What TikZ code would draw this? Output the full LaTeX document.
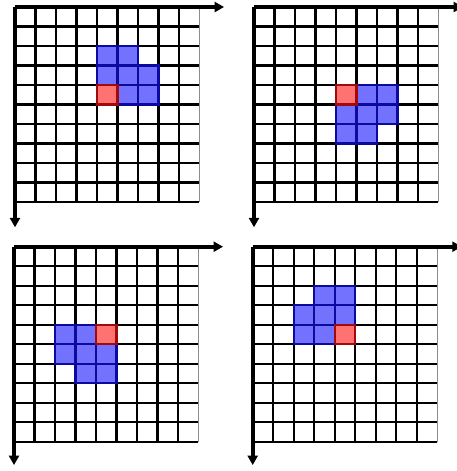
\documentclass[tikz,border=0pt]{standalone}
\usetikzlibrary{arrows.meta}

\newcommand{\cellgrid}{%
  \foreach \i in {1,...,8} \draw[gridline] (\i,0) -- (\i,10);
  \foreach \j in {1,...,10} \draw[gridline] (0,\j) -- (9,\j);
  \draw[edgeline] (9,0) -- (9,10);}

\begin{document}
\begin{tikzpicture}[x=0.02cm,y=-0.02cm,
    gridline/.style={line width=1.3pt,black},
    edgeline/.style={line width=0.6pt,black!45},
    axisline/.style={line width=2.1pt,-{Triangle[length=0.19cm,width=0.2cm]}},
    bluecell/.style={fill=cellblue,draw=celledgeblue,line width=1.3pt},
    redcell/.style={fill=cellred,draw=celledgered,line width=1.3pt}]
  \definecolor{cellblue}{HTML}{7272FF}
  \definecolor{celledgeblue}{HTML}{0A0AA0}
  \definecolor{cellred}{HTML}{FF7272}
  \definecolor{celledgered}{HTML}{A00A0A}
  \fill[white] (0,0) rectangle (457,471);
  \clip (0,0) rectangle (457,471);
  % Top left: the piece before any turn.
  \begin{scope}[shift={(15,7)},x=0.41cm,y=-0.39cm]
    \cellgrid
    \foreach \c in {(4,2),(5,2),(4,3),(5,3),(6,3),(5,4),(6,4)}
      \filldraw[bluecell] \c rectangle ++(1,1);
    \filldraw[redcell] (4,4) rectangle ++(1,1);
    \draw[axisline] (0,0) -- (10.2,0);
    \draw[axisline] (0,0) -- (0,11.3);
  \end{scope}
  % Top right.
  \begin{scope}[shift={(254,7)},x=0.41cm,y=-0.39cm]
    \cellgrid
    \foreach \c in {(5,4),(6,4),(4,5),(5,5),(6,5),(4,6),(5,6)}
      \filldraw[bluecell] \c rectangle ++(1,1);
    \filldraw[redcell] (4,4) rectangle ++(1,1);
    \draw[axisline] (0,0) -- (10.2,0);
    \draw[axisline] (0,0) -- (0,11.3);
  \end{scope}
  % Bottom left.
  \begin{scope}[shift={(14,246.7)},x=0.41cm,y=-0.39cm]
    \cellgrid
    \foreach \c in {(2,4),(3,4),(2,5),(3,5),(4,5),(3,6),(4,6)}
      \filldraw[bluecell] \c rectangle ++(1,1);
    \filldraw[redcell] (4,4) rectangle ++(1,1);
    \draw[axisline] (0,0) -- (10.2,0);
    \draw[axisline] (0,0) -- (0,11.2);
  \end{scope}
  % Bottom right.
  \begin{scope}[shift={(252.7,246.7)},x=0.41cm,y=-0.39cm]
    \cellgrid
    \foreach \c in {(3,2),(4,2),(2,3),(3,3),(4,3),(2,4),(3,4)}
      \filldraw[bluecell] \c rectangle ++(1,1);
    \filldraw[redcell] (4,4) rectangle ++(1,1);
    \draw[axisline] (0,0) -- (10.2,0);
    \draw[axisline] (0,0) -- (0,11.2);
  \end{scope}
\end{tikzpicture}
\end{document}
